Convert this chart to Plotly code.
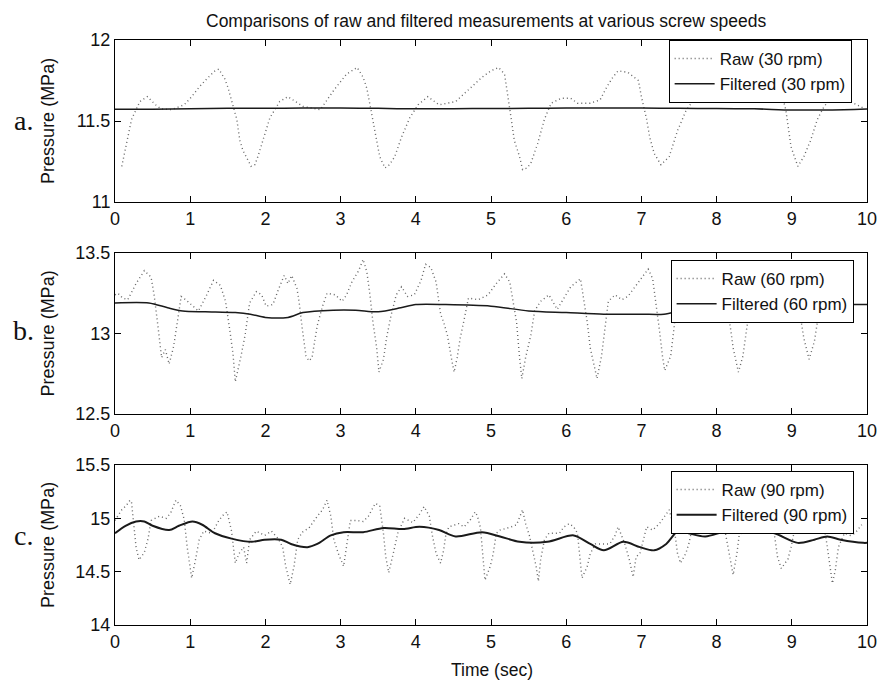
import plotly.graph_objects as go

# ---------------- data ----------------
tick_x = [0, 1, 2, 3, 4, 5, 6, 7, 8, 9, 10]

# Panel a: 30 rpm
t_raw30 = [0.09, 0.15, 0.22, 0.33, 0.43, 0.54, 0.61, 0.75, 0.92, 1.02, 1.12, 1.22, 1.33, 1.38, 1.46, 1.50,
           1.55, 1.62, 1.66, 1.70, 1.81, 1.86, 1.90, 1.99, 2.06, 2.19, 2.30, 2.50, 2.73, 2.91, 3.00, 3.08,
           3.22, 3.30, 3.35, 3.39, 3.43, 3.48, 3.52, 3.59, 3.65, 3.72, 3.81, 3.92, 4.03, 4.16, 4.31, 4.53,
           4.70, 4.88, 5.00, 5.10, 5.18, 5.23, 5.27, 5.31, 5.38, 5.42, 5.48, 5.53, 5.62, 5.71, 5.80, 5.93,
           6.06, 6.15, 6.32, 6.45, 6.54, 6.62, 6.69, 6.82, 6.96, 7.00, 7.07, 7.11, 7.17, 7.26, 7.37, 7.48,
           7.59, 7.72, 7.80, 7.90, 8.03, 8.20, 8.35, 8.50, 8.65, 8.78, 8.86, 8.92, 8.95, 8.99, 9.08, 9.16,
           9.25, 9.34, 9.43, 9.56, 9.69, 9.82, 9.95]
raw30 = [11.22, 11.36, 11.51, 11.62, 11.65, 11.60, 11.575, 11.57, 11.60, 11.65, 11.71, 11.76, 11.81, 11.82, 11.76, 11.71,
         11.62, 11.51, 11.38, 11.32, 11.22, 11.23, 11.28, 11.42, 11.52, 11.62, 11.65, 11.59, 11.57, 11.69, 11.74, 11.79,
         11.83, 11.77, 11.70, 11.60, 11.49, 11.36, 11.28, 11.21, 11.23, 11.28, 11.40, 11.52, 11.60, 11.65, 11.60, 11.62,
         11.69, 11.77, 11.81, 11.83, 11.79, 11.65, 11.51, 11.38, 11.28, 11.20, 11.21, 11.24, 11.36, 11.51, 11.61, 11.64,
         11.64, 11.61, 11.61, 11.63, 11.71, 11.77, 11.81, 11.80, 11.75, 11.65, 11.51, 11.40, 11.30, 11.23, 11.28, 11.44,
         11.56, 11.65, 11.67, 11.63, 11.62, 11.62, 11.68, 11.75, 11.80, 11.75, 11.68, 11.57, 11.46, 11.34, 11.22, 11.28,
         11.38, 11.51, 11.59, 11.66, 11.65, 11.61, 11.58]
t_filt30 = [0, 0.5, 1, 1.5, 2, 2.5, 3, 3.5, 4, 4.5, 5, 5.5, 6, 6.5, 7, 7.5, 8, 8.5, 9, 9.5, 10]
filt30 = [11.572, 11.573, 11.575, 11.578, 11.578, 11.580, 11.580, 11.578, 11.575, 11.576, 11.577,
          11.578, 11.580, 11.580, 11.580, 11.578, 11.577, 11.575, 11.568, 11.568, 11.574]

# Panel b: 60 rpm
t_raw60 = [0.00, 0.04, 0.10, 0.17, 0.28, 0.39, 0.48, 0.52, 0.57, 0.62, 0.67, 0.72, 0.78, 0.84, 0.88, 0.94,
           1.03, 1.11, 1.22, 1.31, 1.40, 1.47, 1.53, 1.57, 1.60, 1.64, 1.68, 1.73, 1.79, 1.88, 1.95, 2.01,
           2.10, 2.17, 2.25, 2.30, 2.35, 2.42, 2.45, 2.49, 2.54, 2.58, 2.62, 2.69, 2.76, 2.82, 2.93, 3.02,
           3.08, 3.15, 3.24, 3.30, 3.35, 3.39, 3.43, 3.48, 3.51, 3.57, 3.61, 3.67, 3.74, 3.81, 3.89, 3.98,
           4.07, 4.13, 4.20, 4.27, 4.33, 4.37, 4.42, 4.48, 4.51, 4.55, 4.59, 4.64, 4.70, 4.83, 4.96, 5.07,
           5.18, 5.25, 5.29, 5.34, 5.38, 5.41, 5.46, 5.53, 5.58, 5.66, 5.77, 5.88, 5.97, 6.06, 6.19, 6.23,
           6.28, 6.32, 6.41, 6.47, 6.52, 6.56, 6.65, 6.74, 6.82, 6.93, 7.09, 7.15, 7.20, 7.24, 7.28, 7.31,
           7.39, 7.44, 7.48, 7.60, 7.75, 7.90, 8.05, 8.18, 8.22, 8.29, 8.35, 8.40, 8.44, 8.55, 8.70, 8.85,
           9.00, 9.12, 9.16, 9.23, 9.30, 9.34, 9.38, 9.45, 9.55]
raw60 = [13.24, 13.25, 13.22, 13.21, 13.31, 13.39, 13.35, 13.24, 13.05, 12.85, 12.90, 12.81, 12.92, 13.10, 13.23, 13.21,
         13.17, 13.14, 13.24, 13.33, 13.30, 13.20, 13.01, 12.87, 12.70, 12.78, 12.87, 12.99, 13.19, 13.26, 13.24, 13.17,
         13.18, 13.27, 13.36, 13.31, 13.36, 13.28, 13.19, 13.03, 12.86, 12.83, 12.85, 13.05, 13.17, 13.25, 13.24, 13.20,
         13.24, 13.32, 13.39, 13.46, 13.38, 13.24, 13.07, 12.91, 12.76, 12.84, 12.97, 13.11, 13.24, 13.29, 13.23, 13.24,
         13.33, 13.43, 13.41, 13.32, 13.12, 13.07, 12.99, 12.83, 12.76, 12.85, 12.97, 13.08, 13.22, 13.21, 13.24, 13.31,
         13.37, 13.32, 13.20, 13.07, 12.85, 12.72, 12.85, 12.99, 13.14, 13.20, 13.24, 13.15, 13.22, 13.29, 13.34, 13.22,
         13.07, 12.91, 12.72, 12.86, 13.05, 13.20, 13.24, 13.21, 13.23, 13.30, 13.40, 13.34, 13.18, 13.02, 12.86, 12.77,
         12.86, 13.05, 13.22, 13.26, 13.30, 13.28, 13.22, 13.05, 12.91, 12.76, 12.86, 13.03, 13.15, 13.25, 13.30, 13.32,
         13.25, 13.09, 12.97, 12.84, 12.95, 13.07, 13.17, 13.25, 13.28]
t_filt60 = [0, 0.45, 0.7, 0.9, 1.2, 1.6, 1.8, 2.0, 2.3, 2.5, 2.9, 3.2, 3.5, 3.8, 4.0, 4.4,
            5.0, 5.5, 6.0, 6.5, 7.0, 7.3, 7.6, 8.0, 8.5, 9.0, 9.5, 10]
filt60 = [13.19, 13.19, 13.16, 13.14, 13.135, 13.13, 13.12, 13.10, 13.10, 13.13, 13.145, 13.145, 13.135, 13.16, 13.18, 13.18,
          13.17, 13.14, 13.13, 13.12, 13.12, 13.12, 13.15, 13.16, 13.17, 13.18, 13.18, 13.18]

# Panel c: 90 rpm
t_raw90 = [0.00, 0.04, 0.09, 0.15, 0.20, 0.22, 0.24, 0.26, 0.28, 0.32, 0.36, 0.39, 0.44, 0.48, 0.59, 0.68,
           0.74, 0.81, 0.87, 0.92, 0.96, 1.02, 1.07, 1.12, 1.18, 1.29, 1.38, 1.45, 1.49, 1.55, 1.60, 1.65,
           1.71, 1.75, 1.79, 1.88, 1.99, 2.08, 2.17, 2.23, 2.27, 2.33, 2.38, 2.43, 2.49, 2.58, 2.69, 2.76,
           2.82, 2.87, 2.91, 2.97, 3.04, 3.08, 3.13, 3.22, 3.30, 3.37, 3.46, 3.52, 3.57, 3.60, 3.64, 3.70,
           3.76, 3.85, 3.96, 4.05, 4.11, 4.18, 4.22, 4.27, 4.33, 4.37, 4.40, 4.44, 4.57, 4.64, 4.72, 4.79,
           4.82, 4.86, 4.90, 4.92, 4.99, 5.03, 5.07, 5.12, 5.27, 5.34, 5.42, 5.46, 5.51, 5.56, 5.60, 5.63,
           5.66, 5.71, 5.77, 5.91, 5.97, 6.04, 6.10, 6.15, 6.19, 6.21, 6.28, 6.32, 6.39, 6.50, 6.58, 6.65,
           6.69, 6.78, 6.84, 6.89, 6.93, 6.98, 7.07, 7.15, 7.24, 7.31, 7.37, 7.44, 7.48, 7.52, 7.59, 7.63,
           7.68, 7.74, 7.85, 7.95, 8.05, 8.11, 8.18, 8.22, 8.27, 8.30, 8.42, 8.55, 8.64, 8.70, 8.77, 8.81,
           8.86, 8.95, 8.99, 9.03, 9.12, 9.21, 9.30, 9.38, 9.45, 9.50, 9.54, 9.58, 9.62, 9.70, 9.78, 9.84,
           9.93]
raw90 = [14.98, 15.02, 15.08, 15.12, 15.17, 15.15, 15.02, 14.86, 14.73, 14.61, 14.65, 14.68, 14.81, 14.98, 15.02, 15.00,
         15.05, 15.17, 15.12, 14.99, 14.73, 14.44, 14.61, 14.80, 14.88, 14.86, 14.98, 15.04, 15.06, 14.88, 14.58, 14.67,
         14.73, 14.58, 14.80, 14.88, 14.84, 14.88, 14.81, 14.73, 14.55, 14.38, 14.55, 14.80, 14.87, 14.91, 15.02, 15.08,
         15.17, 15.02, 14.80, 14.67, 14.55, 14.73, 14.98, 14.98, 14.97, 15.02, 15.14, 15.12, 14.86, 14.64, 14.49, 14.67,
         14.86, 15.00, 14.96, 15.04, 15.11, 15.02, 14.84, 14.67, 14.58, 14.70, 14.85, 14.92, 14.95, 14.92, 14.98, 15.06,
         15.02, 14.91, 14.61, 14.42, 14.55, 14.67, 14.86, 14.89, 14.92, 14.94, 15.08, 14.95, 14.84, 14.67, 14.55, 14.41,
         14.61, 14.80, 14.86, 14.86, 14.92, 14.95, 14.92, 14.86, 14.61, 14.44, 14.55, 14.67, 14.76, 14.76, 14.76, 14.84,
         14.92, 14.76, 14.61, 14.45, 14.64, 14.67, 14.92, 14.89, 14.95, 15.02, 15.08, 14.89, 14.67, 14.58, 14.67, 14.76,
         14.92, 14.98, 15.05, 15.03, 14.98, 14.89, 14.64, 14.47, 14.67, 14.84, 14.92, 14.95, 15.02, 15.05, 14.84, 14.64,
         14.53, 14.62, 14.73, 14.87, 14.91, 14.89, 14.98, 15.02, 14.84, 14.61, 14.39, 14.52, 14.73, 14.86, 14.84, 14.86,
         14.94]
t_filt90 = [0.00, 0.14, 0.28, 0.39, 0.50, 0.72, 0.85, 1.03, 1.16, 1.33, 1.55, 1.82, 1.99, 2.21, 2.34, 2.56,
            2.69, 2.87, 3.04, 3.30, 3.57, 3.83, 4.05, 4.31, 4.53, 4.88, 5.12, 5.38, 5.75, 6.10, 6.32, 6.50,
            6.76, 6.98, 7.17, 7.33, 7.50, 7.63, 7.85, 8.07, 8.33, 8.55, 8.77, 9.08, 9.30, 9.47, 9.65, 9.95, 10.0]
filt90 = [14.86, 14.93, 14.97, 14.97, 14.93, 14.89, 14.93, 14.97, 14.94, 14.86, 14.81, 14.78, 14.80, 14.80, 14.76, 14.73,
          14.76, 14.84, 14.87, 14.87, 14.91, 14.90, 14.92, 14.89, 14.83, 14.87, 14.83, 14.78, 14.78, 14.84, 14.76, 14.70,
          14.78, 14.73, 14.70, 14.76, 14.89, 14.86, 14.83, 14.87, 14.92, 14.89, 14.86, 14.77, 14.80, 14.83, 14.80, 14.77, 14.77]

panels = [
    dict(t_raw=t_raw30, raw=raw30, t_f=t_filt30, filt=filt30, rpm="30", letter="a.",
         yr=[11, 12], yt=[11, 11.5, 12], ytt=["11", "11.5", "12"]),
    dict(t_raw=t_raw60, raw=raw60, t_f=t_filt60, filt=filt60, rpm="60", letter="b.",
         yr=[12.5, 13.5], yt=[12.5, 13, 13.5], ytt=["12.5", "13", "13.5"]),
    dict(t_raw=t_raw90, raw=raw90, t_f=t_filt90, filt=filt90, rpm="90", letter="c.",
         yr=[14, 15.5], yt=[14, 14.5, 15, 15.5], ytt=["14", "14.5", "15", "15.5"]),
]

# ---------------- layout geometry (pixels) ----------------
W, H = 889, 681
L, R, T, B = 115, 12, 40, 56
ph = H - T - B
tops = [40, 253, 465]
bots = [202, 414, 625]
letter_y = [121, 330, 535]
legend_pos = [(676, 40), (678, 260), (678, 471)]

def py(p):  # pixel y -> paper y
    return (H - B - p) / ph

def px(p):  # pixel x -> paper x
    return (p - L) / (W - L - R)

FONT = "Liberation Sans, Arial, sans-serif"

fig = go.Figure()
layout = dict(
    width=W, height=H,
    margin=dict(l=L, r=R, t=T, b=B),
    paper_bgcolor="white", plot_bgcolor="white",
    font=dict(family=FONT, color="#111", size=17),
    showlegend=True,
    annotations=[],
)

for i, p in enumerate(panels):
    n = "" if i == 0 else str(i + 1)
    xa, ya = "x" + n, "y" + n
    leg = "legend" + n
    fig.add_trace(go.Scatter(
        x=p["t_raw"], y=p["raw"], mode="lines", name=f"Raw ({p['rpm']} rpm)",
        line=dict(color="#666666", width=1.4, dash="1px,3px"),
        xaxis=xa, yaxis=ya, legend=leg))
    fig.add_trace(go.Scatter(
        x=p["t_f"], y=p["filt"], mode="lines", name=f"Filtered ({p['rpm']} rpm)",
        line=dict(color="#1a1a1a", width=1.5 if i < 2 else 2.0, shape="spline", smoothing=0.8),
        xaxis=xa, yaxis=ya, legend=leg))

    common = dict(showline=True, mirror="ticks", linecolor="black", linewidth=1,
                  ticks="inside", ticklen=6, tickcolor="black", tickwidth=1,
                  showgrid=False, zeroline=False,
                  tickfont=dict(size=18, family=FONT, color="#111"))
    layout["xaxis" + n] = dict(common, domain=[0, 1], range=[0, 10], tickvals=tick_x,
                               ticktext=[str(v) for v in tick_x], anchor=ya)
    layout["yaxis" + n] = dict(common, domain=[py(bots[i]), py(tops[i])], range=p["yr"],
                               tickvals=p["yt"], ticktext=p["ytt"], anchor=xa)
    lx, ly = legend_pos[i]
    layout[leg] = dict(x=px(lx), y=py(ly), xanchor="left", yanchor="top",
                       xref="paper", yref="paper",
                       bgcolor="white", bordercolor="black", borderwidth=1,
                       font=dict(size=17, family=FONT, color="#111"),
                       itemwidth=40, tracegroupgap=0)
    layout["annotations"].append(dict(
        text="Pressure (MPa)", textangle=-90, x=px(47), y=py((tops[i] + bots[i]) / 2),
        xref="paper", yref="paper", showarrow=False, xanchor="center", yanchor="middle",
        font=dict(size=18, family=FONT, color="#111")))
    layout["annotations"].append(dict(
        text=p["letter"], x=px(22), y=py(letter_y[i]),
        xref="paper", yref="paper", showarrow=False, xanchor="center", yanchor="middle",
        font=dict(size=28, family="Liberation Serif, Times New Roman, serif", color="#111")))

layout["annotations"].append(dict(
    text="Comparisons of raw and filtered measurements at various screw speeds",
    x=px(491), y=py(21), xref="paper", yref="paper", showarrow=False,
    xanchor="center", yanchor="middle", font=dict(size=17.5, family=FONT, color="#111")))
layout["annotations"].append(dict(
    text="Time (sec)", x=px(497), y=py(670), xref="paper", yref="paper", showarrow=False,
    xanchor="center", yanchor="middle", font=dict(size=17.5, family=FONT, color="#111")))

fig.update_layout(**layout)
fig.write_html("out.html")
